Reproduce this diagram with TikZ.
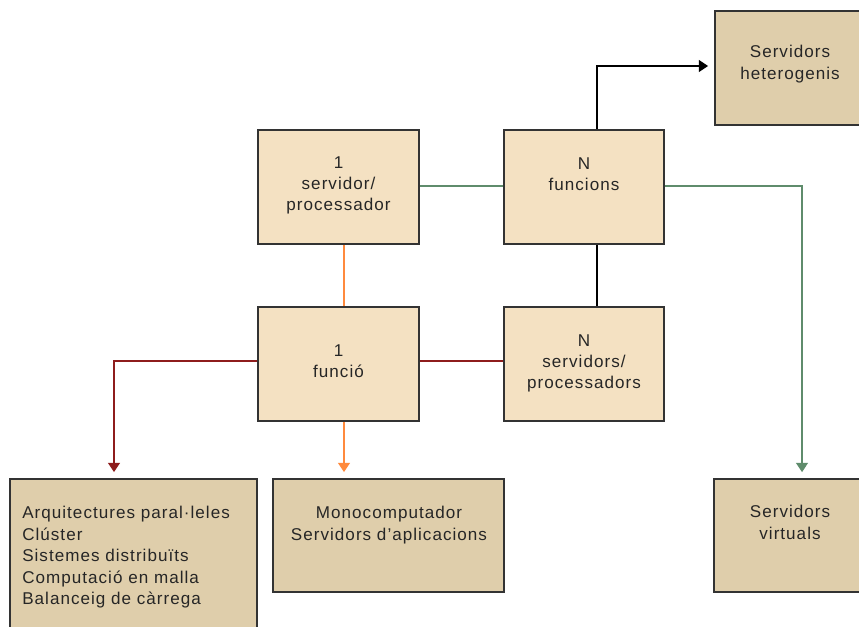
\documentclass[tikz,border=0pt]{standalone}
\usepackage{fontspec}
\setmainfont{Liberation Sans}[LetterSpace=6]
\usetikzlibrary{arrows.meta}
\definecolor{fillA}{HTML}{F4E1C2}
\definecolor{fillB}{HTML}{DFCEAB}
\definecolor{edge}{HTML}{333333}
\definecolor{lnGreen}{HTML}{5F8C6C}
\definecolor{lnOrange}{HTML}{FF8A3D}
\definecolor{lnRed}{HTML}{8E1C1C}
\tikzset{
  boxA/.style={draw=edge, fill=fillA, line width=1.3pt, inner sep=0pt},
  boxB/.style={draw=edge, fill=fillB, line width=1.3pt, inner sep=0pt},
  txt/.style={font=\fontsize{12.8}{16.1}\selectfont, align=center, anchor=north, inner sep=0pt, text=black!85},
  link/.style={line width=1.1pt},
  tip/.style={-{Triangle[length=7pt,width=9pt]}, shorten >=4.5pt}
}
\begin{document}
\begin{tikzpicture}[x=0.75pt,y=-0.75pt]
  \useasboundingbox (0,0) rectangle (859,626);
  \clip (0,0) rectangle (859,626);

  % boxes
  \node[boxB, minimum width=151*0.75pt, minimum height=114*0.75pt] (het) at (790.5,68) {};
  \node[boxA, minimum width=161*0.75pt, minimum height=114*0.75pt] (srv1) at (338.5,187) {};
  \node[boxA, minimum width=160*0.75pt, minimum height=114*0.75pt] (fnN) at (584,187) {};
  \node[boxA, minimum width=161*0.75pt, minimum height=114*0.75pt] (fn1) at (338.5,364) {};
  \node[boxA, minimum width=160*0.75pt, minimum height=114*0.75pt] (srvN) at (584,364) {};
  \node[boxB, minimum width=247*0.75pt, minimum height=170*0.75pt] (par) at (133.5,564) {};
  \node[boxB, minimum width=231*0.75pt, minimum height=113*0.75pt] (mono) at (388.5,535.5) {};
  \node[boxB, minimum width=152*0.75pt, minimum height=113*0.75pt] (virt) at (790,535.5) {};

  % texts
  \node[txt] (thet) at (790,45) {Servidors\\heterogenis};
  \node[txt] (tsrv1) at (338.5,156) {1\\servidor/\\processador};
  \node[txt] (tfnN) at (584,157) {N\\funcions};
  \node[txt] (tfn1) at (338.5,344) {1\\funció};
  \node[txt] (tsrvN) at (584,334) {N\\servidors/\\processadors};
  \node[txt, align=left, anchor=north west] (tpar) at (22,506) {Arquitectures paral·leles\\Clúster\\Sistemes distribuïts\\Computació en malla\\Balanceig de càrrega};
  \node[txt] (tmono) at (389,506) {Monocomputador\\Servidors d'aplicacions};
  \node[txt] (tvirt) at (790,505) {Servidors\\virtuals};

  % connectors
  \draw[link, black, tip] (fnN.north -| 597,0) |- (het.west |- 0,66);
  \draw[link, black] (fnN.south -| 597,0) -- (srvN.north -| 597,0);
  \draw[link, lnGreen] (srv1.east |- 0,186) -- (fnN.west |- 0,186);
  \draw[link, lnGreen, tip] (fnN.east |- 0,186) -| (virt.north -| 802,0);
  \draw[link, lnOrange] (srv1.south -| 344,0) -- (fn1.north -| 344,0);
  \draw[link, lnOrange, tip] (fn1.south -| 344,0) -- (mono.north -| 344,0);
  \draw[link, lnRed] (fn1.east |- 0,361) -- (srvN.west |- 0,361);
  \draw[link, lnRed, tip] (fn1.west |- 0,361) -| (par.north -| 114,0);
\end{tikzpicture}
\end{document}
